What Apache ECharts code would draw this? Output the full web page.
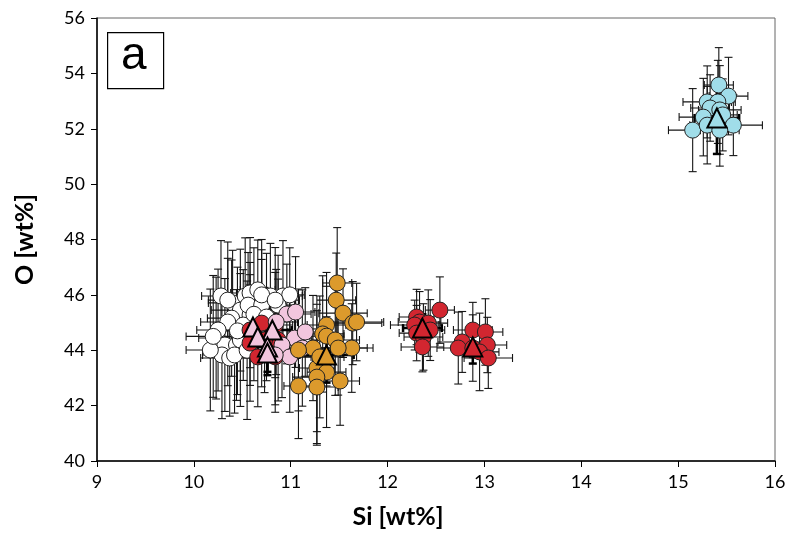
<!DOCTYPE html>
<html><head><meta charset="utf-8">
<script src="https://cdn.jsdelivr.net/npm/echarts@6/dist/echarts.min.js"></script>
<style>html,body{margin:0;padding:0;background:#fff}#c{width:791px;height:539px}</style>
</head><body><div id="c"></div>
<script>
// axis ticks
const xTicks = [9, 10, 11, 12, 13, 14, 15, 16];
const yTicks = [40, 42, 44, 46, 48, 50, 52, 54, 56];

// white group
const whiteX = [10.28,10.40,10.53,10.58,10.66,10.79,10.92,10.99,10.48,10.58,10.39,10.35,10.51,10.23,10.32,10.44,10.29,10.37,10.17,10.56,10.70,10.87,10.25,10.48,10.42,10.35,10.70,10.84,10.62,10.45,10.20,10.55,10.75];
const whiteY = [45.96,45.71,45.96,46.07,46.18,45.96,45.96,46.00,45.45,45.27,45.16,45.02,44.91,44.44,44.19,44.19,43.83,43.72,44.01,45.63,45.63,45.63,44.73,44.37,43.83,45.81,46.00,45.81,45.30,44.70,44.50,44.00,45.20];
const whiteXerr = [0.20,0.25,0.15,0.20,0.18,0.22,0.20,0.15,0.30,0.20,0.25,0.28,0.20,0.18,0.15,0.22,0.20,0.30,0.25,0.20,0.15,0.18,0.22,0.20,0.25,0.20,0.18,0.25,0.22,0.20,0.28,0.18,0.20];
const whiteYerr = [2.0,1.9,2.1,2.0,1.8,1.9,2.0,1.7,2.2,1.9,2.1,2.3,2.0,2.2,2.4,2.0,2.3,2.1,2.2,1.9,2.0,1.8,2.2,2.4,2.1,2.1,2.0,1.9,2.4,2.3,2.2,2.5,2.3];

// dark red group near Si 10.7
const red3X = [10.58,10.84,10.58,10.87,10.66,10.84,10.70,10.73];
const red3Y = [44.73,44.91,44.26,44.37,43.76,43.76,44.98,44.37];
const red3Xerr = [0.20,0.18,0.25,0.22,0.20,0.15,0.20,0.25];
const red3Yerr = [2.0,1.9,2.1,2.2,1.8,2.0,2.3,1.9];

// pink group
const pinkX = [10.96,11.05,10.85,11.04,11.12,10.91,10.99,10.84,11.15];
const pinkY = [45.31,45.38,45.02,44.44,44.08,44.19,43.76,43.83,44.66];
const pinkXerr = [0.25,0.20,0.22,0.18,0.25,0.20,0.22,0.20,0.18];
const pinkYerr = [1.8,2.0,1.9,1.7,2.1,1.9,2.0,1.8,1.6];

// orange group
const orangeX = [11.48,11.47,11.54,11.64,11.68,11.37,11.33,11.37,11.46,11.23,11.08,11.63,11.49,11.27,11.37,11.27,11.08,11.27,11.51,11.30];
const orangeY = [46.43,45.81,45.34,44.98,45.02,44.91,44.59,44.51,44.37,44.08,44.01,44.08,44.08,43.36,43.21,43.03,42.71,42.67,42.89,43.76];
const orangeXerr = [0.15,0.20,0.25,0.30,0.28,0.20,0.22,0.18,0.25,0.20,0.15,0.22,0.30,0.18,0.20,0.25,0.15,0.22,0.20,0.25];
const orangeYerr = [2.0,1.7,1.6,1.5,1.4,1.9,2.1,1.8,2.0,1.9,2.2,1.6,1.7,2.3,2.0,2.4,1.9,2.1,1.6,2.2];

// red groups near Si 12.3 and 12.9
const redX = [12.30,12.33,12.28,12.42,12.30,12.44,12.37,12.36,12.54,12.88,13.01,12.77,12.73,13.03,12.88,12.95,13.04];
const redY = [45.20,45.02,44.91,44.98,44.62,44.73,44.48,44.12,45.45,44.73,44.66,44.30,44.08,44.19,44.08,43.94,43.72];
const redXerr = [0.18,0.22,0.25,0.20,0.18,0.15,0.20,0.22,0.15,0.20,0.18,0.25,0.22,0.20,0.15,0.20,0.25];
const redYerr = [1.0,1.1,0.9,1.2,1.0,1.1,1.2,0.9,1.2,1.0,1.2,1.1,1.3,1.0,1.2,1.4,1.1];

// cyan group
const cyanX = [15.42,15.52,15.30,15.41,15.33,15.43,15.26,15.46,15.57,15.15,15.30,15.43];
const cyanY = [53.58,53.18,52.97,52.97,52.75,52.68,52.42,52.50,52.13,51.95,52.13,51.95];
const cyanXerr = [0.15,0.20,0.25,0.18,0.20,0.22,0.25,0.15,0.30,0.25,0.18,0.20];
const cyanYerr = [1.35,1.40,1.30,1.50,1.20,1.60,1.40,1.30,1.10,1.50,1.40,1.30];

// group means (triangles)
const meanX = [10.61,10.81,10.66,10.76,10.76,11.37,12.36,12.88,15.40];
const meanY = [44.84,44.73,44.48,44.12,43.90,43.83,44.80,44.12,52.39];
const meanXerr = [0.22,0.20,0.20,0.22,0.20,0.28,0.20,0.20,0.23];
const meanYerr = [0.9,0.8,0.8,0.9,0.8,1.0,0.5,0.6,1.3];
const meanColor = ['#f2c6de','#f2c6de','#f2c6de','#f2c6de','#f2c6de','#dc9a2c','#d22630','#d22630','#a0dde9'];

function rows(xs, ys, xe, ye) { return xs.map((x, i) => [x, ys[i], xe[i], ye[i]]); }

function errSeries(data, width, color) {
  return {
    type: 'custom', data: data, encode: {x: 0, y: 1}, silent: true,
    renderItem: function (params, api) {
      const x = api.value(0), y = api.value(1), dx = api.value(2), dy = api.value(3);
      const c = api.coord([x, y]);
      const l = api.coord([x - dx, y]), r = api.coord([x + dx, y]);
      const t = api.coord([x, y + dy]), b = api.coord([x, y - dy]);
      const cap = 4;
      const st = {stroke: color, lineWidth: width};
      return {type: 'group', children: [
        {type: 'line', shape: {x1: l[0], y1: c[1], x2: r[0], y2: c[1]}, style: st},
        {type: 'line', shape: {x1: c[0], y1: t[1], x2: c[0], y2: b[1]}, style: st},
        {type: 'line', shape: {x1: l[0], y1: c[1] - cap, x2: l[0], y2: c[1] + cap}, style: st},
        {type: 'line', shape: {x1: r[0], y1: c[1] - cap, x2: r[0], y2: c[1] + cap}, style: st},
        {type: 'line', shape: {x1: c[0] - cap, y1: t[1], x2: c[0] + cap, y2: t[1]}, style: st},
        {type: 'line', shape: {x1: c[0] - cap, y1: b[1], x2: c[0] + cap, y2: b[1]}, style: st}
      ]};
    }
  };
}
function ptSeries(xs, ys, color) {
  return {type: 'scatter', data: xs.map((x, i) => [x, ys[i]]), symbol: 'circle', symbolSize: 16,
    itemStyle: {color: color, borderColor: '#222', borderWidth: 1, opacity: 1}, silent: true};
}

const groups = [
  [whiteX, whiteY, whiteXerr, whiteYerr, '#ffffff'],
  [red3X, red3Y, red3Xerr, red3Yerr, '#d22630'],
  [pinkX, pinkY, pinkXerr, pinkYerr, '#f2c6de'],
  [orangeX, orangeY, orangeXerr, orangeYerr, '#dc9a2c'],
  [redX, redY, redXerr, redYerr, '#d22630'],
  [cyanX, cyanY, cyanXerr, cyanYerr, '#a0dde9']
];
const series = [];
groups.forEach(g => {
  series.push(errSeries(rows(g[0], g[1], g[2], g[3]), 1.1, '#151515'));
  series.push(ptSeries(g[0], g[1], g[4]));
});
series.push(errSeries(rows(meanX, meanY, meanXerr, meanYerr), 2.5, '#000'));
series.push({type: 'scatter', symbol: 'triangle', symbolSize: 19, silent: true,
  data: meanX.map((x, i) => ({value: [x, meanY[i]], itemStyle: {color: meanColor[i]}})),
  itemStyle: {borderColor: '#000', borderWidth: 2, opacity: 1}});

const tickFont = 'Lato, "Open Sans", sans-serif';
const chart = echarts.init(document.getElementById('c'), null, {renderer: 'canvas'});
chart.setOption({
  animation: false,
  grid: {left: 97, right: 16, top: 18, bottom: 78, show: true, borderColor: '#666', borderWidth: 1},
  xAxis: {type: 'value', min: xTicks[0], max: xTicks[xTicks.length - 1], interval: 1,
    axisLine: {lineStyle: {color: '#000', width: 1.5}},
    axisTick: {length: 6, lineStyle: {color: '#000'}},
    axisLabel: {fontFamily: tickFont, fontSize: 18, color: '#000', margin: 12},
    splitLine: {show: false}},
  yAxis: {type: 'value', min: yTicks[0], max: yTicks[yTicks.length - 1], interval: 2,
    name: 'O [wt%]', nameLocation: 'middle', nameGap: 60,
    nameTextStyle: {fontFamily: tickFont, fontWeight: 'bold', fontSize: 25, color: '#000'},
    axisLine: {lineStyle: {color: '#000', width: 1.5}},
    axisTick: {length: 6, lineStyle: {color: '#000'}},
    axisLabel: {fontFamily: tickFont, fontSize: 18, color: '#000', margin: 12},
    splitLine: {show: false}},
  graphic: [
    {type: 'rect', left: 107, top: 32, shape: {width: 56, height: 56}, z: 100,
      style: {fill: '#fff', stroke: '#000', lineWidth: 1.2}},
    {type: 'text', left: 121, top: 33, z: 101,
      style: {text: 'a', font: '46px "Liberation Sans", Arial, sans-serif', fill: '#000'}},
    {type: 'text', x: 398, y: 517, z: 101,
      style: {text: 'Si [wt%]', font: 'bold 25px Lato, sans-serif', fill: '#000', textAlign: 'center', textVerticalAlign: 'middle'}}
  ],
  series: series
});
</script></body></html>
